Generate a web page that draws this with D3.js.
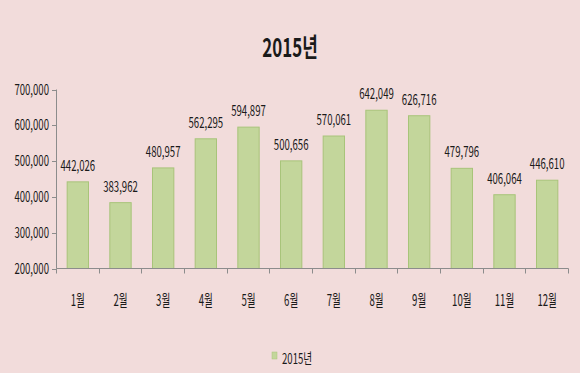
<!DOCTYPE html>
<html>
<head>
<meta charset="utf-8">
<script src="https://cdn.jsdelivr.net/npm/d3@7"></script>
<style>
  body { margin: 0; background: #f2dcdb; }
  svg { display: block; font-family: "Noto Sans CJK KR", "Noto Sans", sans-serif; }
</style>
</head>
<body>
<svg width="580" height="373"></svg>
<script>
const months = ['1월', '2월', '3월', '4월', '5월', '6월', '7월', '8월', '9월', '10월', '11월', '12월'];
const visitors = [442026, 383962, 480957, 562295, 594897, 500656, 570061, 642049, 626716, 479796, 406064, 446610];
const yTicks = [200000, 300000, 400000, 500000, 600000, 700000];
const seriesName = '2015년';

const svg = d3.select('svg');
const width = +svg.attr('width');
const height = +svg.attr('height');
const squash = 0.64; // the reference font is very narrow

svg.append('rect')
  .attr('width', width)
  .attr('height', height)
  .attr('fill', '#f2dcdb');

const x = d3.scaleBand()
  .domain(months)
  .range([56.5, 568.5])
  .paddingInner(0.5)
  .paddingOuter(0.25);

const y = d3.scaleLinear()
  .domain([200000, 700000])
  .range([268.5, 89.5]);

const fmt = d3.format(',');

// narrow text helper
const label = (g, tx, ty, str, opts = {}) => g.append('text')
  .attr('transform', `translate(${tx},${ty}) scale(${opts.sx || squash},1)`)
  .attr('text-anchor', opts.anchor || 'middle')
  .attr('font-size', opts.size || 15)
  .attr('font-weight', opts.weight || 'normal')
  .attr('fill', '#1a1a1a')
  .text(str);

// title
label(svg, width / 2, 57, '2015년', { size: 26, weight: 'bold', sx: 0.65 });

// bars
svg.append('g')
  .selectAll('rect')
  .data(visitors)
  .join('rect')
    .attr('x', (d, i) => x(months[i]))
    .attr('y', d => y(d))
    .attr('width', x.bandwidth())
    .attr('height', d => y(200000) - y(d))
    .attr('fill', '#c3d69b')
    .attr('stroke', '#a8c47a')
    .attr('stroke-width', 1);

// data labels
const values = svg.append('g');
visitors.forEach((d, i) => {
  label(values, x(months[i]) + x.bandwidth() / 2, y(d) - 11, fmt(d));
});

// y axis
const axisColor = '#8c8c8c';
const yAxis = svg.append('g');
yAxis.append('line')
  .attr('x1', 56.5).attr('x2', 56.5)
  .attr('y1', y(700000)).attr('y2', y(200000))
  .attr('stroke', axisColor);
yTicks.forEach(t => {
  yAxis.append('line')
    .attr('x1', 52).attr('x2', 56.5)
    .attr('y1', Math.round(y(t)) + 0.5).attr('y2', Math.round(y(t)) + 0.5)
    .attr('stroke', axisColor);
  label(yAxis, 49, y(t) + 5, fmt(t), { anchor: 'end' });
});

// x axis
const xAxis = svg.append('g');
xAxis.append('line')
  .attr('x1', 56.5).attr('x2', 568.5)
  .attr('y1', y(200000)).attr('y2', y(200000))
  .attr('stroke', axisColor);
d3.range(months.length + 1).forEach(i => {
  const px = Math.round(56 + i * x.step()) + 0.5;
  xAxis.append('line')
    .attr('x1', px).attr('x2', px)
    .attr('y1', y(200000)).attr('y2', y(200000) + 5)
    .attr('stroke', axisColor);
});
months.forEach(m => {
  label(xAxis, x(m) + x.bandwidth() / 2, 306, m, { size: 16, sx: 0.6 });
});

// legend
const legend = svg.append('g');
legend.append('rect')
  .attr('x', 272).attr('y', 352)
  .attr('width', 5).attr('height', 7)
  .attr('fill', '#c3d69b')
  .attr('stroke', '#a8c47a')
  .attr('stroke-width', 0.5);
label(legend, 282, 364, seriesName, { anchor: 'start' });
</script>
</body>
</html>
